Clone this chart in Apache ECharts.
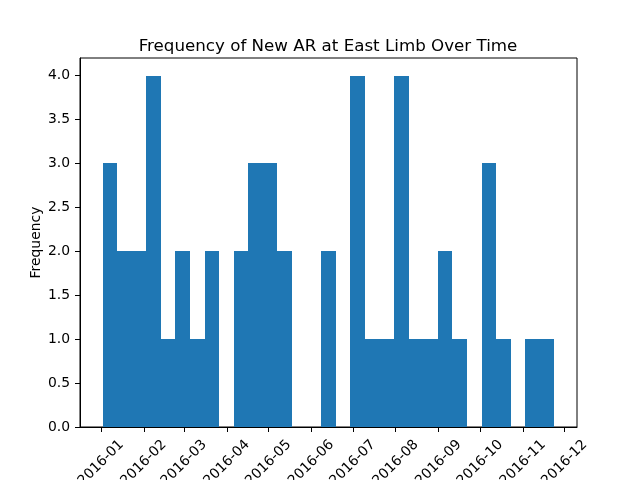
<!DOCTYPE html>
<html>
<head>
<meta charset="utf-8">
<script src="https://cdn.jsdelivr.net/npm/echarts@6/dist/echarts.min.js"></script>
<style>
  html, body { margin: 0; padding: 0; background: #fff; }
  #main { width: 640px; height: 480px; }
</style>
</head>
<body>
<div id="main"></div>
<script>
// histogram counts, 31 equal bins between firstEdge and lastEdge
const binCounts = [3, 2, 2, 4, 1, 2, 1, 2, 0, 2, 3, 3, 2, 0, 0, 2, 0, 4, 1, 1, 4, 1, 1, 2, 1, 0, 3, 1, 0, 1, 1];
const firstEdge = "2016-01-02T05:30:00";
const lastEdge = "2016-11-23T16:50:00";
const xTickLabels = ["2016-01", "2016-02", "2016-03", "2016-04", "2016-05", "2016-06",
  "2016-07", "2016-08", "2016-09", "2016-10", "2016-11", "2016-12"];
const yTickValues = [0, 0.5, 1, 1.5, 2, 2.5, 3, 3.5, 4];

const t0 = new Date(firstEdge).getTime();
const t1 = new Date(lastEdge).getTime();
const step = (t1 - t0) / binCounts.length;
const bins = binCounts.map((c, i) => [t0 + i * step, t0 + (i + 1) * step, c]);
const pad = (t1 - t0) * 0.05;
const xTicks = xTickLabels.map((s) => {
  const [y, m] = s.split("-").map(Number);
  return new Date(y, m - 1, 1).getTime();
});

const font = "DejaVu Sans";
const chart = echarts.init(document.getElementById("main"));
chart.setOption({
  animation: false,
  title: {
    text: "Frequency of New AR at East Limb Over Time",
    left: 323,
    top: 33,
    textAlign: "center",
    textStyle: { fontFamily: font, fontSize: 16.7, fontWeight: "normal", color: "#000" },
  },
  grid: {
    left: 80, right: 63, top: 58, bottom: 53,
    outerBoundsMode: "none",
    show: true, borderColor: "#000", borderWidth: 1, backgroundColor: "transparent",
  },
  xAxis: {
    type: "time",
    min: t0 - pad,
    max: t1 + pad,
    axisLine: { show: true, lineStyle: { color: "#000", width: 1 } },
    axisTick: { show: true, length: 5, customValues: xTicks, lineStyle: { color: "#000" } },
    splitLine: { show: false },
    axisLabel: {
      customValues: xTicks,
      formatter: "{yyyy}-{MM}",
      rotate: 45,
      align: "center",
      verticalAlign: "middle",
      margin: 36,
      fontFamily: font,
      fontSize: 13.9,
      color: "#000",
    },
  },
  yAxis: {
    type: "value",
    min: 0,
    max: 4.2,
    name: "Frequency",
    nameLocation: "middle",
    nameGap: 37,
    nameMoveOverlap: false,
    nameTextStyle: { fontFamily: font, fontSize: 13.9, color: "#000" },
    axisLine: { show: true, lineStyle: { color: "#000", width: 1 } },
    axisTick: { show: true, length: 5, customValues: yTickValues, lineStyle: { color: "#000" } },
    splitLine: { show: false },
    axisLabel: {
      customValues: yTickValues,
      formatter: (v) => v.toFixed(1),
      margin: 10,
      fontFamily: font,
      fontSize: 13.9,
      color: "#000",
    },
  },
  series: [
    {
      type: "custom",
      encode: { x: [0, 1], y: 2 },
      data: bins,
      renderItem: (params, api) => {
        if (!api.value(2)) return null;
        const a = api.coord([api.value(0), 0]);
        const b = api.coord([api.value(1), api.value(2)]);
        const x0 = Math.round(a[0]);
        const x1 = Math.round(b[0]);
        return {
          type: "rect",
          shape: { x: x0, y: Math.round(b[1]), width: x1 - x0, height: Math.round(a[1]) - Math.round(b[1]) },
          style: { fill: "#1f77b4" },
        };
      },
    },
  ],
});
</script>
</body>
</html>
